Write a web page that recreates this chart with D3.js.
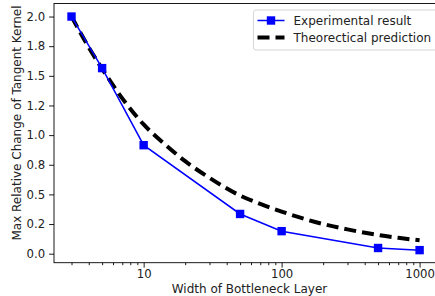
<!DOCTYPE html>
<html>
<head>
<meta charset="utf-8">
<script src="https://cdn.jsdelivr.net/npm/d3@7"></script>
<style>
  body { margin: 0; background: #fff; }
  svg { display: block; font-family: "DejaVu Sans", sans-serif; }
</style>
</head>
<body>
<div class="chart"></div>
<script>
// measured experiment
let expWidth = [3, 5, 10, 50, 100, 500, 1000];
let expValue = [2.0, 1.565, 0.915, 0.335, 0.19, 0.048, 0.03];

// theory curve
let theoWidth = [3, 4, 5, 7, 10, 15, 20, 30, 50, 70, 100, 200, 300, 500, 700, 1000];
let theoValue = [2.0, 1.74, 1.56, 1.31, 1.09, 0.9, 0.78, 0.64, 0.49, 0.42, 0.355, 0.25, 0.205, 0.158, 0.134, 0.113];

let yTicks = [0, 0.25, 0.5, 0.75, 1.0, 1.25, 1.5, 1.75, 2.0];
let yTickLabels = ['0.0', '0.2', '0.5', '0.8', '1.0', '1.2', '1.5', '1.8', '2.0'];
let xTicks = [10, 100, 1000];
let xTickLabels = ['10', '100', '1000'];
let seriesNames = ['Experimental result', 'Theorectical prediction'];

let margin = {top: 3.5, right: -2, bottom: 33.3, left: 54};
let fullWidth = 435, fullHeight = 296;
let width = fullWidth - margin.left - margin.right;
let height = fullHeight - margin.top - margin.bottom;

let svg = d3.select('.chart')
	.append('svg')
	.attr('width', fullWidth)
	.attr('height', fullHeight)
	.append('g')
	.attr('transform', 'translate(' + margin.left + ', ' + margin.top + ')');

let xScale = d3.scaleLog()
	.domain([2.24, 1337])
	.range([0, width]);

let yScale = d3.scaleLinear()
	.domain([-0.076, 2.11])
	.range([height, 0]);

// minor ticks on the log axis
let minor = [];
[1, 10, 100].forEach(dec => {
	for (let k = 2; k <= 9; k++) {
		let v = dec * k;
		if (v > 2.24 && v < 1337) minor.push(v);
	}
});

let xAxis = svg.append('g')
	.attr('transform', 'translate(0, ' + height + ')');
xAxis.call(d3.axisBottom(xScale).tickValues(minor).tickSize(2.5).tickFormat(''));
xAxis.append('g').call(d3.axisBottom(xScale)
	.tickValues(xTicks)
	.tickSize(4.9)
	.tickPadding(1.8)
	.tickFormat((d, i) => xTickLabels[i]));

let yAxis = svg.append('g')
	.call(d3.axisLeft(yScale)
		.tickValues(yTicks)
		.tickSize(4.9)
		.tickPadding(4)
		.tickFormat((d, i) => yTickLabels[i]));

svg.selectAll('.domain').remove();
svg.selectAll('.tick line').attr('stroke', '#000').attr('stroke-width', 0.9);
svg.selectAll('.tick text')
	.attr('fill', '#222')
	.style('font-size', '11.7px')
	.style('font-family', '"DejaVu Sans", sans-serif');

// spines
svg.append('rect')
	.attr('x', 0)
	.attr('y', 0)
	.attr('width', width)
	.attr('height', height)
	.attr('fill', 'none')
	.attr('stroke', '#000')
	.attr('stroke-width', 0.9);

// theory dashed line
let theoLine = d3.line()
	.x((d, i) => xScale(theoWidth[i]))
	.y(d => yScale(d))
	.curve(d3.curveMonotoneX);

svg.append('path')
	.datum(theoValue)
	.attr('d', theoLine)
	.attr('fill', 'none')
	.attr('stroke', '#000')
	.attr('stroke-width', 4)
	.attr('stroke-dasharray', '12,6');

// experiment line + square markers
let expLine = d3.line()
	.x((d, i) => xScale(expWidth[i]))
	.y(d => yScale(d));

svg.append('path')
	.datum(expValue)
	.attr('d', expLine)
	.attr('fill', 'none')
	.attr('stroke', '#0000ff')
	.attr('stroke-width', 1.5);

let ms = 8.4;
svg.selectAll('.marker')
	.data(expValue)
	.enter()
	.append('rect')
	.attr('class', 'marker')
	.attr('x', (d, i) => xScale(expWidth[i]) - ms / 2)
	.attr('y', d => yScale(d) - ms / 2)
	.attr('width', ms)
	.attr('height', ms)
	.attr('fill', '#0000ff');

// axis labels
svg.append('text')
	.attr('x', 195.5)
	.attr('y', 293 - margin.top)
	.attr('text-anchor', 'middle')
	.attr('fill', '#222')
	.style('font-size', '12px')
	.text('Width of Bottleneck Layer');

svg.append('text')
	.attr('transform', 'translate(' + (21 - margin.left) + ', ' + (123 - margin.top) + ') rotate(-90)')
	.attr('text-anchor', 'middle')
	.attr('fill', '#222')
	.style('font-size', '12px')
	.text('Max Relative Change of Tangent Kernel');

// legend
let legend = svg.append('g')
	.attr('transform', 'translate(' + (253.5 - margin.left) + ', ' + (10 - margin.top) + ')');

legend.append('rect')
	.attr('width', 190)
	.attr('height', 40)
	.attr('rx', 2.5)
	.attr('fill', 'rgba(255,255,255,0.8)')
	.attr('stroke', '#d0d0d0')
	.attr('stroke-width', 0.9);

legend.append('line')
	.attr('x1', 4).attr('x2', 31)
	.attr('y1', 10.5).attr('y2', 10.5)
	.attr('stroke', '#0000ff')
	.attr('stroke-width', 1.5);
legend.append('rect')
	.attr('x', 17.5 - ms / 2).attr('y', 10.5 - ms / 2)
	.attr('width', ms).attr('height', ms)
	.attr('fill', '#0000ff');

legend.append('line')
	.attr('x1', 4).attr('x2', 31)
	.attr('y1', 27.5).attr('y2', 27.5)
	.attr('stroke', '#000')
	.attr('stroke-width', 4)
	.attr('stroke-dasharray', '12,6');

legend.selectAll('.ltext')
	.data(seriesNames)
	.enter()
	.append('text')
	.attr('class', 'ltext')
	.attr('x', 40)
	.attr('y', (d, i) => 14.7 + i * 17.3)
	.attr('fill', '#222')
	.style('font-size', '12px')
	.text(d => d);
</script>
</body>
</html>
